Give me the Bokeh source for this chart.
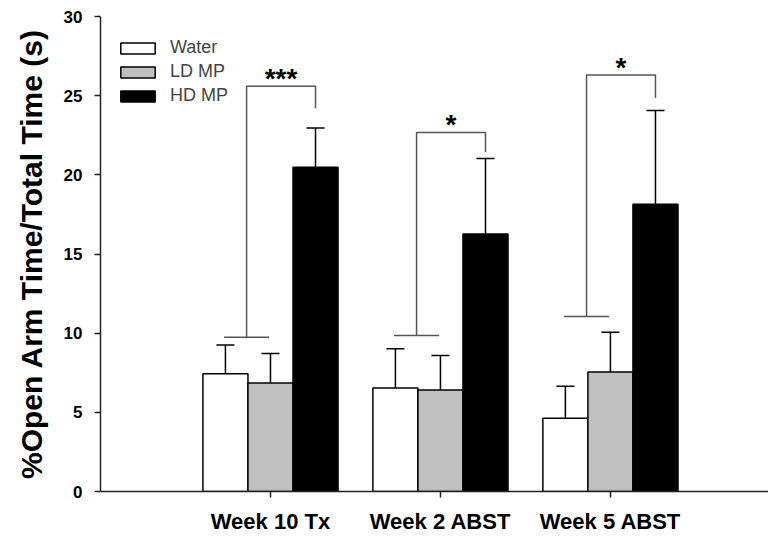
from bokeh.plotting import figure
from bokeh.models import (ColumnDataSource, Range1d, FixedTicker, Whisker, TeeHead,
                          Legend, LegendItem, GlobalInlineStyleSheet)
from bokeh.core.properties import value
from bokeh.embed import file_html
from bokeh.resources import INLINE

# ---- data ----
groups = ["Week 10 Tx", "Week 2 ABST", "Week 5 ABST"]
series = ["Water", "LD MP", "HD MP"]
water_mean = [7.44, 6.53, 4.62]
water_sem = [1.82, 2.48, 2.02]
ld_mean = [6.85, 6.41, 7.54]
ld_sem = [1.87, 2.18, 2.52]
hd_mean = [20.48, 16.26, 18.15]
hd_sem = [2.48, 4.77, 5.92]
# significance brackets (lower bar level, top level, right drop end, label)
bracket_low = [9.75, 9.85, 11.05]
bracket_top = [25.6, 22.67, 26.3]
bracket_end = [24.2, 21.45, 24.87]
stars = ["***", "*", "*"]
y_ticks = [0, 5, 10, 15, 20, 25, 30]

FONT = "Liberation Sans"
bw = 0.265
offsets = [-bw, 0.0, bw]
fills = ["white", "#c0c0c0", "black"]
means = [water_mean, ld_mean, hd_mean]
sems = [water_sem, ld_sem, hd_sem]
centers = [i + 1 for i in range(len(groups))]

p = figure(width=768, height=536, x_range=Range1d(0, 3.93), y_range=Range1d(0, 30),
           output_backend="svg", toolbar_location=None,
           min_border_left=100, min_border_right=0, min_border_top=16, min_border_bottom=44)
p.stylesheets = [GlobalInlineStyleSheet(css="html, body { overflow: hidden; }")]
p.outline_line_color = None
p.grid.visible = False
p.background_fill_color = "white"

renderers = []
for k in range(3):
    xs = [c + offsets[k] for c in centers]
    src = ColumnDataSource(dict(x=xs, top=means[k],
                                upper=[m + s for m, s in zip(means[k], sems[k])]))
    w = Whisker(base="x", lower="top", upper="upper", source=src, dimension="height",
                line_color="black", line_width=1.5, lower_head=None,
                upper_head=TeeHead(size=18, line_color="black", line_width=1.5))
    p.add_layout(w)
    r = p.vbar(x="x", top="top", width=bw, source=src, fill_color=fills[k],
               line_color="black", line_width=1.5)
    renderers.append(r)

# brackets
bxs, bys = [], []
for i, c in enumerate(centers):
    lw = c + offsets[0] - 0.008
    ll = c + offsets[1] - 0.008
    mid = (lw + ll) / 2
    hx = c + offsets[2]
    bxs.append([lw, ll]); bys.append([bracket_low[i], bracket_low[i]])
    bxs.append([mid, mid, hx, hx]); bys.append([bracket_low[i], bracket_top[i], bracket_top[i], bracket_end[i]])
p.multi_line(xs=bxs, ys=bys, line_color="#555555", line_width=1.5)

star_x = [((c + offsets[0] + c + offsets[1]) / 2 - 0.008 + c + offsets[2]) / 2 for c in centers]
p.text(x=star_x, y=bracket_top, text=stars, text_font=value(FONT), text_font_style="bold",
       text_font_size="28px", text_align="center", text_baseline="alphabetic",
       y_offset=-8, text_color="black")

# axes
p.yaxis.ticker = FixedTicker(ticks=y_ticks)
p.xaxis.ticker = FixedTicker(ticks=centers)
p.xaxis.major_label_overrides = {c: g for c, g in zip(centers, groups)}
for ax in (p.xaxis[0], p.yaxis[0]):
    ax.axis_line_color = "#222222"
    ax.axis_line_width = 1.5
    ax.major_tick_line_color = "#222222"
    ax.major_tick_line_width = 1.5
    ax.major_tick_in = 0
    ax.major_tick_out = 6
    ax.minor_tick_line_color = None
    ax.major_label_text_font = FONT
    ax.major_label_text_font_style = "bold"
    ax.major_label_text_color = "black"
p.yaxis.major_label_text_font_size = "17px"
p.yaxis.major_label_standoff = 12
p.xaxis.major_label_text_font_size = "22px"
p.xaxis.major_label_standoff = 11
p.yaxis.axis_label = "%Open Arm Time/Total Time (s)"
p.yaxis.axis_label_text_font = FONT
p.yaxis.axis_label_text_font_style = "bold"
p.yaxis.axis_label_text_font_size = "30px"
p.yaxis.axis_label_text_color = "black"
p.yaxis.axis_label_standoff = 13

legend = Legend(items=[LegendItem(label=s, renderers=[r]) for s, r in zip(series, renderers)],
                location=(16, 385), padding=0, margin=0, spacing=3,
                glyph_width=43, glyph_height=14, label_height=14, label_standoff=11,
                label_text_font=FONT, label_text_font_size="18px",
                border_line_color=None, background_fill_alpha=0)
p.add_layout(legend)

open("out.html", "w").write(file_html(p, INLINE))
